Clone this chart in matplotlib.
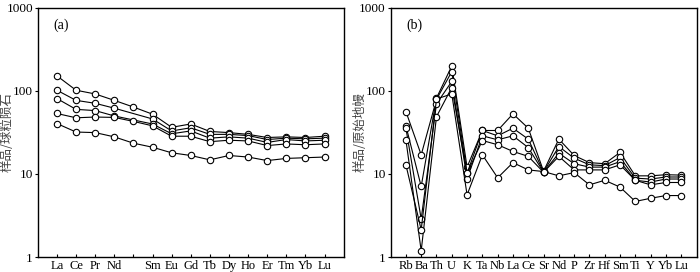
import numpy as np
import matplotlib
matplotlib.use("Agg")
import matplotlib.pyplot as plt

plt.rcParams['font.family'] = ['Liberation Serif', 'Noto Sans CJK SC', 'DejaVu Sans']

# (a) chondrite-normalised REE
ree = ['La', 'Ce', 'Pr', 'Nd', 'Pm', 'Sm', 'Eu', 'Gd', 'Tb', 'Dy', 'Ho', 'Er', 'Tm', 'Yb', 'Lu']
ree_labels = ['La', 'Ce', 'Pr', 'Nd', '', 'Sm', 'Eu', 'Gd', 'Tb', 'Dy', 'Ho', 'Er', 'Tm', 'Yb', 'Lu']
ree_s1 = [152, 102, 92, 77, 64, 52.5, 36.5, 40, 32.5, 31.5, 30, 27.5, 28, 27.5, 28.5]
ree_s2 = [102, 77, 71, 62, np.nan, 46, 33, 36, 30, 30, 29, 26, 27, 26.5, 27]
ree_s3 = [81, 60, 58, 50, np.nan, 40, 30.5, 33, 27, 28, 27, 24, 26, 25, 25.5]
ree_s4 = [53.5, 47.5, 48.5, 48, 43, 38, 28.5, 28.5, 24.5, 25.5, 25, 22, 23, 22.5, 23]
ree_s5 = [40.5, 32, 31.5, 28, 23.5, 21, 18, 16.7, 14.8, 16.7, 16, 14.5, 15.4, 15.7, 16]

# (b) primitive-mantle-normalised trace elements
tre = ['Rb', 'Ba', 'Th', 'U', 'K', 'Ta', 'Nb', 'La', 'Ce', 'Sr', 'Nd', 'P', 'Zr', 'Hf', 'Sm', 'Ti', 'Y', 'Yb', 'Lu']
tre_s1 = [38, 7.07, 82, 200, 12.1, 33.4, 33.4, 53, 35.6, 10.8, 26.3, 16.7, 13.7, 13.3, 18.2, 9.5, 9.5, 9.8, 9.7]
tre_s2 = [56.5, 17, 79, 171, 10.2, 33.4, 28.8, 35.6, 26.3, 10.6, 21.4, 15.5, 12.9, 12.6, 15.8, 8.9, 8.7, 9.2, 9.2]
tre_s3 = [35.6, 2.87, 70, 130, 8.75, 28.8, 25.8, 28.8, 20.8, 10.5, 17.8, 13.3, 12.1, 12.1, 14.1, 8.4, 8.0, 8.7, 8.7]
tre_s4 = [25.8, 1.19, 49, 110, 10.2, 25.3, 22.5, 18.7, 16.3, 10.5, 16.3, 11.2, 11.2, 11.2, 12.9, 8.4, 7.4, 7.9, 7.9]
tre_s5 = [12.9, 2.13, 80, 92, 5.6, 17, 9.0, 13.7, 11.2, 10.7, 9.5, 10.4, 7.4, 8.4, 6.95, 4.67, 5.1, 5.5, 5.5]

fig = plt.figure(figsize=(7, 2.72), dpi=100)
ax1 = fig.add_axes([0.054, 0.055, 0.437, 0.916])
ax2 = fig.add_axes([0.558, 0.055, 0.437, 0.916])


def draw(ax, names, labels, series, ylabel, tag, lx):
    x = np.arange(len(names))
    for s in series:
        s = np.array(s, dtype=float)
        ok = ~np.isnan(s)
        ax.plot(x[ok], s[ok], color='black', lw=0.8, marker='o', ms=4.6,
                mfc='white', mec='black', mew=0.8)
    ax.set_yscale('log')
    ax.set_ylim(1, 1000)
    ax.set_xlim(-1, len(names))
    ax.set_xticks(x)
    ax.set_xticklabels(labels, fontsize=9)
    ax.set_yticks([1, 10, 100, 1000])
    ax.set_yticklabels(['1', '10', '100', '1000'], fontsize=9.5)
    ax.yaxis.set_minor_locator(matplotlib.ticker.NullLocator())
    ax.tick_params(axis='x', direction='in', length=2.5, width=0.8, pad=2)
    ax.tick_params(axis='y', direction='out', length=2.5, width=0.8, pad=1)
    for sp in ax.spines.values():
        sp.set_linewidth(1.0)
    ax.set_ylabel(ylabel, family=['Noto Sans CJK SC'], fontsize=9, color='#444444')
    ax.yaxis.set_label_coords(lx, 0.5)
    ax.text(0.05, 0.93, tag, transform=ax.transAxes, fontsize=10, va='center')


draw(ax1, ree, ree_labels, [ree_s1, ree_s2, ree_s3, ree_s4, ree_s5], '样品/球粒陨石', '(a)', -0.08)
draw(ax2, tre, tre, [tre_s1, tre_s2, tre_s3, tre_s4, tre_s5], '样品/原始地幔', '(b)', -0.078)

fig.savefig('out.png', dpi=100)
